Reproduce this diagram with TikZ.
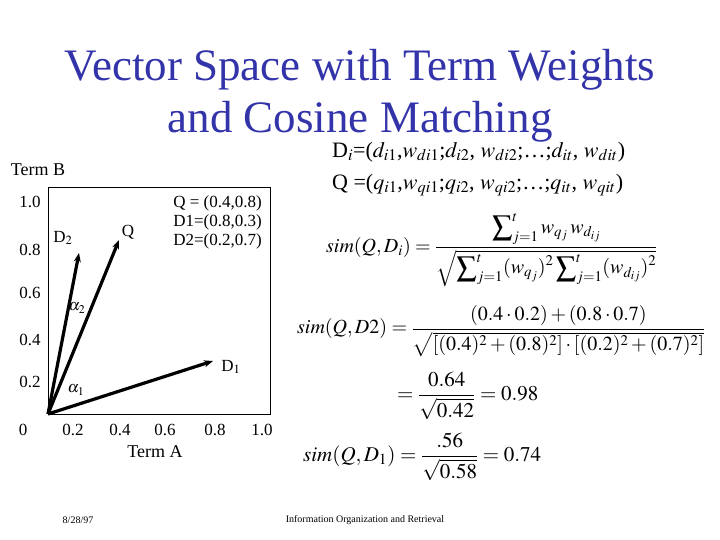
\documentclass[tikz,border=0pt]{standalone}
\usepackage{amsmath}
\usepackage{mathptmx}
\usepackage{fontspec}
\setmainfont{Liberation Serif}
\usetikzlibrary{arrows.meta}
\definecolor{titleblue}{RGB}{51,51,170}

\begin{document}
\begin{tikzpicture}[x=1pt, y=-1pt, >=Stealth, every node/.style={inner sep=0pt},
    vec/.style={line width=3.2pt, -{Stealth[length=9pt, width=7pt]}},
    tick/.style={font=\fontsize{17}{17}\selectfont},
    lbl/.style={font=\fontsize{17}{17}\selectfont},
    eqn/.style={anchor=west}]
    \useasboundingbox (0,0) rectangle (720,540);

    % 标题
    \node[font=\fontsize{45}{45}\selectfont, text=titleblue] (title1) at (360,70) {Vector Space with Term Weights};
    \node[font=\fontsize{45}{45}\selectfont, text=titleblue] (title2) at (360,122) {and Cosine Matching};

    % 坐标框
    \draw[thick] (48,187) rectangle (270,414);
    \node[font=\fontsize{18}{18}\selectfont] (termB) at (38,170) {Term B};
    \node[font=\fontsize{18}{18}\selectfont] (termA) at (155,452) {Term A};
    \foreach \v/\x in {0/23, 0.2/73, 0.4/120, 0.6/165, 0.8/215, 1.0/262}
        \node[tick] (x\v) at (\x,430) {\v};
    \foreach \v/\y in {1.0/202, 0.8/250, 0.6/293, 0.4/340, 0.2/382}
        \node[tick] (y\v) at (30,\y) {\v};

    % 向量
    \coordinate (O) at (48,414);
    \coordinate (D1) at (213,361);
    \coordinate (Q) at (119,240);
    \coordinate (D2) at (79,253);
    \draw[vec] (O) -- (D1);
    \draw[vec] (O) -- (Q);
    \draw[vec] (O) -- (D2);
    \node[lbl] (labD2) at (63,238) {D$_2$};
    \node[lbl] (labQ) at (128,232) {Q};
    \node[lbl] (labD1) at (231,367) {D$_1$};
    \node[font=\fontsize{16}{16}\selectfont] (a2) at (77,308) {$\alpha_2$};
    \node[font=\fontsize{16}{16}\selectfont] (a1) at (76,390) {$\alpha_1$};

    % 数据
    \node[lbl, anchor=east] (qv) at (262,203) {Q = (0.4,0.8)};
    \node[lbl, anchor=east] (d1v) at (262,222) {D1=(0.8,0.3)};
    \node[lbl, anchor=east] (d2v) at (262,241) {D2=(0.2,0.7)};

    % 公式
    \node[eqn, font=\fontsize{22}{22}\selectfont] (Di) at (332,152) {D$_i$=($d_{i1}$,$w_{di1}$;$d_{i2}$, $w_{di2}$;\dots;$d_{it}$, $w_{dit}$)};
    \node[eqn, font=\fontsize{22}{22}\selectfont] (Qi) at (332,185) {Q =($q_{i1}$,$w_{qi1}$;$q_{i2}$, $w_{qi2}$;\dots;$q_{it}$, $w_{qit}$)};
    \node[eqn, font=\fontsize{20}{20}\selectfont] (simDi) at (326,250) {$\displaystyle sim(Q,D_i)=\frac{\displaystyle\sum\nolimits_{j=1}^{t} w_{q_j}\,w_{d_{ij}}}{\sqrt{\displaystyle\sum\nolimits_{j=1}^{t}(w_{q_j})^2\sum\nolimits_{j=1}^{t}(w_{d_{ij}})^2}}$};
    \node[eqn, font=\fontsize{20}{20}\selectfont] (simD2) at (297,331) {$\displaystyle sim(Q,D2)=\frac{(0.4\cdot 0.2)+(0.8\cdot 0.7)}{\sqrt{[(0.4)^2+(0.8)^2]\cdot[(0.2)^2+(0.7)^2]}}$};
    \node[eqn, font=\fontsize{21}{21}\selectfont] (res2) at (397,396) {$\displaystyle =\frac{0.64}{\sqrt{0.42}}=0.98$};
    \node[eqn, font=\fontsize{21}{21}\selectfont] (simD1) at (303,457) {$\displaystyle sim(Q,D_1)=\frac{.56}{\sqrt{0.58}}=0.74$};

    % 页脚
    \node[font=\fontsize{10}{10}\selectfont] (date) at (78,520) {8/28/97};
    \node[font=\fontsize{10}{10}\selectfont] (course) at (365,520) {Information Organization and Retrieval};
\end{tikzpicture}
\end{document}
